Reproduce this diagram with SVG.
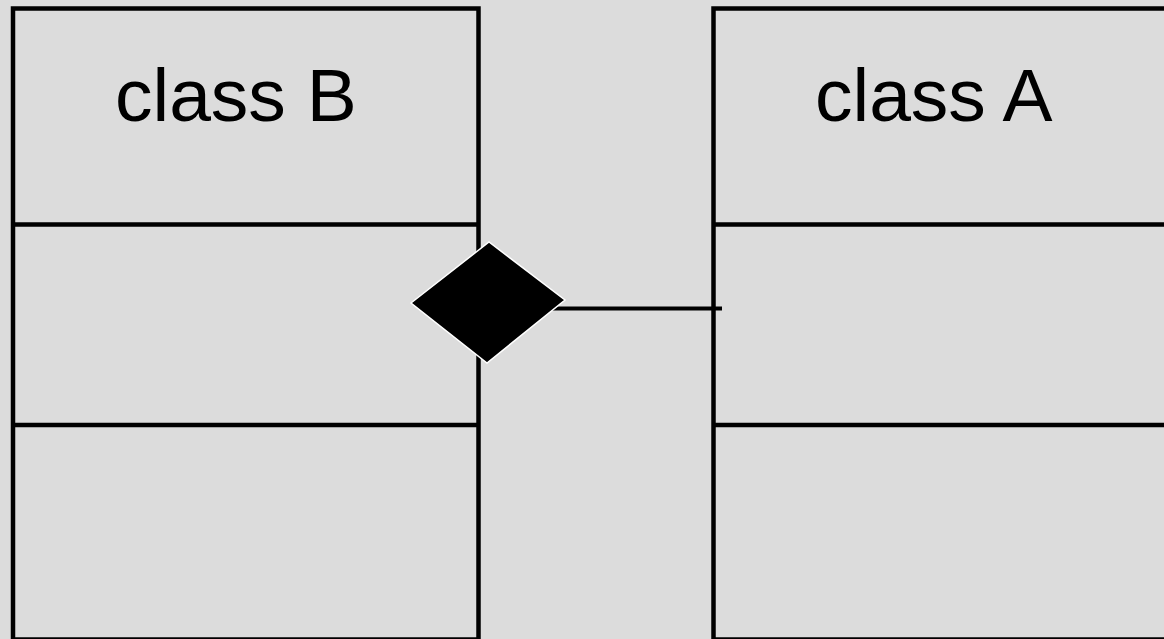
<svg xmlns="http://www.w3.org/2000/svg" width="1164" height="639" viewBox="0 0 1164 639">
  <style>
    .frame { fill: none; stroke: #000; stroke-width: 4.5; }
    .sep { stroke: #000; stroke-width: 4.5; }
    .title { font-family: "Liberation Sans", Arial, sans-serif; font-size: 75px; fill: #000; }
    .link { stroke: #000; stroke-width: 4; fill: none; }
    .diamond { fill: #000; stroke: #fff; stroke-width: 1.5; stroke-linejoin: miter; }
  </style>
  <rect x="0" y="0" width="1164" height="639" fill="#dcdcdc"/>

  <!-- class B: name, attributes, operations -->
  <g id="classB">
    <rect class="frame" x="13" y="8.5" width="465.5" height="631"/>
    <line class="sep" x1="13" y1="224.5" x2="478.5" y2="224.5"/>
    <line class="sep" x1="13" y1="425" x2="478.5" y2="425"/>
    <text class="title" x="115" y="120.5">class B</text>
  </g>

  <!-- class A: name, attributes, operations -->
  <g id="classA">
    <rect class="frame" x="713.5" y="8.5" width="520" height="631"/>
    <line class="sep" x1="713.5" y1="224.5" x2="1170" y2="224.5"/>
    <line class="sep" x1="713.5" y1="425" x2="1170" y2="425"/>
    <text class="title" x="815" y="120.5">class A</text>
  </g>

  <!-- composition: B owns A (filled diamond on the whole side) -->
  <g id="connectors">
    <line class="link" x1="490" y1="308.5" x2="722" y2="308.5"/>
    <polygon class="diamond" points="411,303 489,242 565,300 487,363"/>
  </g>
</svg>
